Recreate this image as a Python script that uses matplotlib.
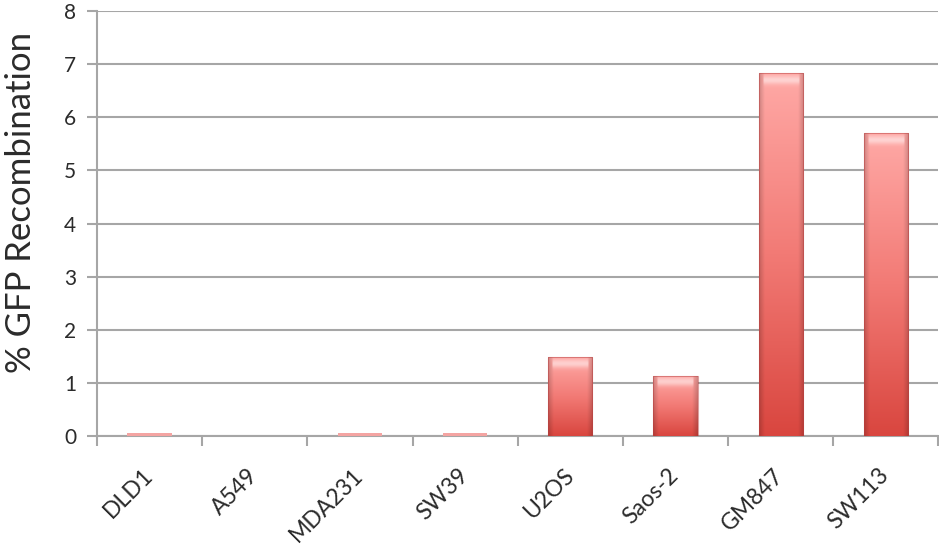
import matplotlib.pyplot as plt
import matplotlib.transforms as mtransforms
import numpy as np
from matplotlib.colors import LinearSegmentedColormap

cell_lines = ['DLD1', 'A549', 'MDA231', 'SW39', 'U2OS', 'Saos-2', 'GM847', 'SW113']
recombination = [0.05, 0.0, 0.05, 0.05, 1.48, 1.13, 6.83, 5.70]

plt.rcParams['font.family'] = ['Lato', 'DejaVu Sans']

fig = plt.figure(figsize=(9.39, 5.51), dpi=100)
ax = fig.add_axes([0.1033, 0.2087, 0.896, 0.7713])

x = np.arange(len(cell_lines))
bar_width = 0.42
grad = LinearSegmentedColormap.from_list('redgrad', ['#d9463f', '#f27a75', '#ffa9a6'])


def bar_image(val, w):
    # vertical red gradient, darker sides, soft white glint under the top
    ny, nx = 300, 60
    yy = np.linspace(0, 1, ny).reshape(-1, 1)
    xx = np.linspace(-1, 1, nx).reshape(1, -1)
    rgb = grad(np.repeat(yy, nx, axis=1))[..., :3]
    side = 1 - 0.18 * np.clip(np.abs(xx) - 0.75, 0, None) / 0.25
    rgb = rgb * side[..., None]
    top_px = np.linspace(0, val, ny).reshape(-1, 1)
    d = val - top_px
    glint = np.exp(-((d - 0.12) / 0.08) ** 2) * (np.abs(xx) < 0.8)
    rgb = rgb + (1 - rgb) * 0.5 * glint[..., None]
    return np.clip(rgb, 0, 1)


bars = ax.bar(x, recombination, width=bar_width, color='none', edgecolor='none', zorder=3)
for bar, val in zip(bars, recombination):
    if val <= 0:
        continue
    x0, w = bar.get_x(), bar.get_width()
    if val < 0.2:
        ax.bar(x0 + w / 2, val, width=w, color='#f4a4a2', zorder=3)
        continue
    img = ax.imshow(bar_image(val, w), aspect='auto', origin='lower',
                    extent=[x0, x0 + w, 0, val], zorder=3, interpolation='bilinear')
    img.set_clip_path(bar)
    ax.plot([x0, x0 + w, x0 + w, x0, x0], [0, 0, val, val, 0],
            color='#b84040', lw=0.8, alpha=0.5, zorder=4)

ax.set_xlim(-0.5, len(cell_lines) - 0.5)
ax.set_ylim(0, 8)
ax.set_yticks(range(0, 9))
ax.yaxis.grid(True, color='#a6a6a6', linewidth=1.5, zorder=0)
ax.set_axisbelow(True)

# category separators as ticks
ax.set_xticks(np.arange(-0.5, len(cell_lines), 1.0))
ax.set_xticklabels([])
ax.set_xticks(x, minor=True)
ax.set_xticklabels(cell_lines, minor=True, rotation=45, ha='right', va='center',
                   rotation_mode='anchor', fontsize=16.5, color='#2b2b2b')
shift = mtransforms.ScaledTranslation(12 / 100, 0, fig.dpi_scale_trans)
for lbl in ax.xaxis.get_minorticklabels():
    lbl.set_transform(lbl.get_transform() + shift)
ax.tick_params(axis='x', which='minor', length=0, pad=26)
ax.tick_params(axis='x', which='major', length=7, width=1.5, color='#a6a6a6')
ax.tick_params(axis='y', length=7, width=1.5, color='#a6a6a6', labelsize=15,
               labelcolor='#2b2b2b', pad=8)

for side in ['top', 'right']:
    ax.spines[side].set_visible(False)
for side in ['left', 'bottom']:
    ax.spines[side].set_color('#a6a6a6')
    ax.spines[side].set_linewidth(1.5)

ax.set_ylabel('% GFP Recombination', fontsize=25, color='#2b2b2b')
ax.yaxis.set_label_coords(-0.071, 0.55)

fig.savefig('out.png', dpi=100)
